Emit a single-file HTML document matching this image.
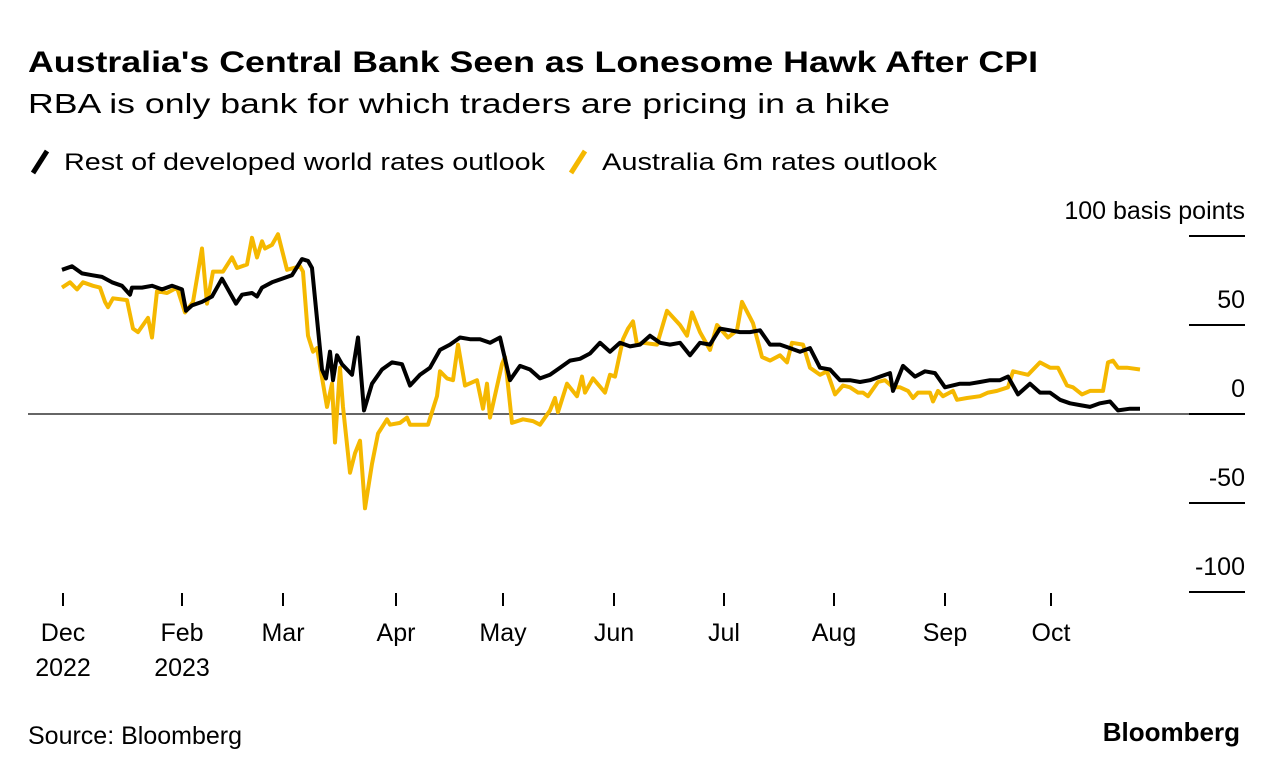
<!DOCTYPE html>
<html><head><meta charset="utf-8"><style>
body{margin:0;background:#fff;font-family:"Liberation Sans",Arial,sans-serif;}
#wrap{position:relative;width:1279px;height:776px;overflow:hidden;}
svg text{font-family:"Liberation Sans",Arial,sans-serif;}
</style></head><body>
<div id="wrap">
<svg id="chart" width="1279" height="776">
<text x="28" y="72" font-size="30" font-weight="bold" fill="#000" textLength="1010" lengthAdjust="spacingAndGlyphs">Australia's Central Bank Seen as Lonesome Hawk After CPI</text>
<text x="28" y="113" font-size="28" fill="#000" textLength="862" lengthAdjust="spacingAndGlyphs">RBA is only bank for which traders are pricing in a hike</text>
<g>
<line x1="33" y1="173" x2="47" y2="151" stroke="#000" stroke-width="5"/>
<text x="64" y="170" font-size="24" textLength="481" lengthAdjust="spacingAndGlyphs">Rest of developed world rates outlook</text>
<line x1="571" y1="173" x2="585" y2="151" stroke="#f5b800" stroke-width="5"/>
<text x="602" y="170" font-size="24" textLength="335" lengthAdjust="spacingAndGlyphs">Australia 6m rates outlook</text>
</g>
<g id="axes"></g>
<g id="series"></g>
<text x="28" y="744" font-size="25">Source: Bloomberg</text>
<text x="1240" y="741" font-size="26" font-weight="bold" text-anchor="end">Bloomberg</text>
</svg>
</div>
<script>
const yTicks=[100,50,0,-50,-100];
const yTickLabels=["100 basis points","50","0","-50","-100"];
const monthTicks=[0.2,24,44.2,66.8,88.2,110.4,132.4,154.4,176.6,197.8];
const monthLabels=["Dec","Feb","Mar","Apr","May","Jun","Jul","Aug","Sep","Oct"];
const yearLabels=["2022","2023","","","","","","","",""];
const blackDays=[0,2,4,6,8,10,12,13.6,14,16,18,20,22,24,24.8,26,28,30,32,34,34.8,36,38,39,40,42,44,46,48,49.2,50,52,52.8,53.6,54.2,55,56,58,59.2,60.4,62,64,66,68,69.6,71.6,73.6,75.6,77.6,79.6,81.6,83.6,85.6,87.6,89.6,91.6,93.6,95.6,97.6,99.6,101.6,103.6,105.6,107.6,109.6,111.6,113.6,115.6,117.6,119.6,121.6,123.6,125.6,127.6,129.6,131.6,133.6,135.6,137.6,139.6,141.6,143.6,145.6,147.6,149.6,151.6,153.6,155.6,157.6,159.6,161.6,163.6,165.6,166.2,168.2,170.6,172.6,174.6,176.6,179.6,181.6,183.6,185.6,187.6,189.2,191.2,193.6,195.6,197.6,199.6,201.6,203.6,205.6,207.6,209.6,211.2,213.6,215.6];
const blackVals=[81,83,79,78,77,74,72,67,71,71,72,70,72,70,58,61,63,66,76,66,62,67,68,66,71,74,76,78,87,86,82,25,20,35,19,33,28,22,43,2,17,25,29,28,16,22,26,36,39,43,42,42,40,43,19,27,25,20,22,26,30,31,34,40,35,40,38,39,44,40,39,40,33,40,39,48,47,46,46,47,39,39,37,35,37,26,25,19,19,18,19,21,23,13,27,21,24,23,15,17,17,18,19,19,21,11,17,12,12,8,6,5,4,6,7,2,3,3];
const ausDays=[0,1.6,3,4.2,6.2,7.6,8.6,9.2,10.2,13,14.2,15.2,17.2,18,19,21,23,24.6,26.2,28,29,30.2,32.2,34,35,37,38,39,40,40.6,42,43.2,45,47.6,48.2,49.2,50.2,51,53,54,54.6,55.6,56.2,57.6,58.6,59.6,60.6,62,63.2,65,65.6,67.6,69,69.6,73.2,75,75.6,77,78.2,79.2,80.6,83,84.2,85,85.6,88,88.6,90,92.2,94.2,95.6,97.6,98.6,99.2,101,103,104,104.6,106.2,108.6,109.6,110.6,112.2,113.2,114.2,115,116.2,119,121,123.6,125,126,127.6,129.6,131,133.2,135,136,138.2,140,141.6,143.6,145,146,148.2,149.6,151.6,153,154.6,156.2,157.6,159.2,160.2,161.2,163.2,164.6,166.2,167.6,169.2,170.2,171.2,173.6,174.2,175.2,176.2,178.2,179,181,183.6,185.2,187,189.2,190.2,193.2,195.6,197.6,199.2,201,202.2,204,205.6,208.2,209.2,210.2,211.2,213,215.6];
const ausVals=[71,74,70,74,72,71,63,60,65,64,48,46,54,43,69,68,71,57,63,93,62,80,80,88,82,84,99,88,97,93,95,101,81,83,80,44,35,37,4,17,-16,26,4,-33,-22,-15,-53,-28,-11,-3,-6,-5,-2,-6,-6,10,24,20,19,39,16,19,3,17,-2,28,32,-5,-3,-4,-6,2,9,1,17,10,21,12,20,12,22,21,42,48,52,39,40,39,58,50,44,57,46,36,50,43,47,63,51,32,30,33,29,40,39,26,22,24,11,16,15,12,12,10,18,19,15,15,13,9,12,12,7,13,10,13,8,9,10,12,13,15,24,22,29,26,26,16,15,11,13,13,29,30,26,26,25];

const X0=62,DX=5,Y0=414,KY=1.78;
const xs=d=>X0+d*DX;
const ys=v=>Y0-v*KY;
const NS="http://www.w3.org/2000/svg";
const axes=document.getElementById('axes'),series=document.getElementById('series');
function mk(tag,attrs,parent){const e=document.createElementNS(NS,tag);for(const k in attrs)e.setAttribute(k,attrs[k]);parent.appendChild(e);return e;}

const zl=mk('line',{x1:28,x2:1245,y1:ys(0),y2:ys(0),stroke:'#666','stroke-width':2},axes);


yTicks.forEach((t,i)=>{
  const l=mk('line',{x1:1189,x2:1245,y1:ys(t),y2:ys(t),stroke:'#000','stroke-width':2},axes);
  
  
  const tx=mk('text',{x:1245,y:ys(t)-17,'font-size':25,'text-anchor':'end'},axes);
  tx.textContent=yTickLabels[i];
  
  
});
monthTicks.forEach((d,i)=>{
  const x=xs(d);
  const l=mk('line',{x1:x,x2:x,y1:593,y2:606,stroke:'#000','stroke-width':2},axes);
  
  
  const t=mk('text',{x:x,y:641,'font-size':25,'text-anchor':'middle'},axes);
  t.textContent=monthLabels[i];
  
  
  if(yearLabels[i]){
    const y=mk('text',{x:x,y:676,'font-size':25,'text-anchor':'middle'},axes);
    y.textContent=yearLabels[i];
    
    
  }
});
function path(days,vals){return days.map((d,i)=>(i?'L':'M')+xs(d).toFixed(1)+','+ys(vals[i]).toFixed(1)).join('');}
const pa=mk('path',{d:path(ausDays,ausVals),fill:'none',stroke:'#f5b800','stroke-width':4,'stroke-linejoin':'round'},series);


const pb=mk('path',{d:path(blackDays,blackVals),fill:'none',stroke:'#000','stroke-width':4,'stroke-linejoin':'round'},series);


</script>
</body></html>
